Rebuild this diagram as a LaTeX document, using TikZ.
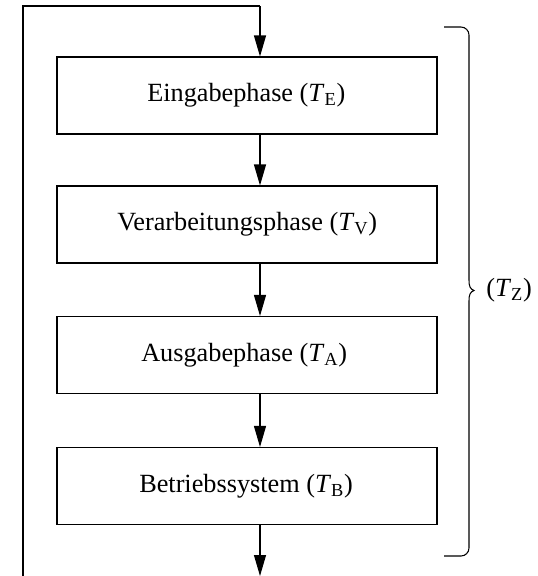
\documentclass[tikz,border=0pt]{standalone}
\usepackage{fontspec}
\setmainfont{Liberation Serif}
\usetikzlibrary{arrows.meta}
\tikzset{
  phase/.style={draw, line width=0.8pt, minimum width=285pt, minimum height=57.75pt, inner sep=0pt},
  phasetext/.style={anchor=west, inner sep=0pt, font=\fontsize{19.7}{24}\selectfont},
  flow/.style={line width=0.8pt, -{Triangle[length=15.75pt, width=9pt]}},
  line/.style={line width=0.8pt},
}
\begin{document}
\begin{tikzpicture}[x=0.75pt, y=-0.75pt]
  \useasboundingbox (0,0) rectangle (537,576);

  % phase boxes
  \node[phase] (b1) at (247,95.5) {};
  \node[phase] (b2) at (247,224.5) {};
  \node[phase] (b3) at (247,355) {};
  \node[phase] (b4) at (247,486) {};

  % phase labels
  \node[phasetext] (t1) at (147,95.5) {Eingabephase (\textit{T}\textsubscript{E})};
  \node[phasetext] (t2) at (117,224.5) {Verarbeitungsphase (\textit{T}\textsubscript{V})};
  \node[phasetext] (t3) at (141,355) {Ausgabephase (\textit{T}\textsubscript{A})};
  \node[phasetext] (t4) at (139,486) {Betriebssystem (\textit{T}\textsubscript{B})};

  % feedback loop
  \coordinate (loopbot) at (23,576);
  \coordinate (loopl) at (23,6);
  \coordinate (loopr) at (260,6);
  \coordinate (out) at (260,576);
  \draw[line] (loopbot) -- (loopl) -- (loopr);
  \draw[flow] (loopr) -- (loopr |- b1.north);

  % arrows between phases
  \draw[flow] (b1.south -| loopr) -- (b2.north -| loopr);
  \draw[flow] (b2.south -| loopr) -- (b3.north -| loopr);
  \draw[flow] (b3.south -| loopr) -- (b4.north -| loopr);
  \draw[flow] (b4.south -| loopr) -- (out);

  % brace over the whole cycle (y axis points down here)
  \draw[line]
    (444,27) -- (461,27) arc[start angle=-90, end angle=0, radius=8]
    -- (469,280)
    .. controls (469,286) and (470,289) .. (474,290.5)
    .. controls (470,292) and (469,295) .. (469,301)
    -- (469,548) arc[start angle=0, end angle=90, radius=8]
    -- (444,556);
  \node[anchor=west, inner sep=0pt, font=\fontsize{19.7}{24}\selectfont] (tz) at (486,290.5) {(\textit{T}\textsubscript{Z})};
\end{tikzpicture}
\end{document}
